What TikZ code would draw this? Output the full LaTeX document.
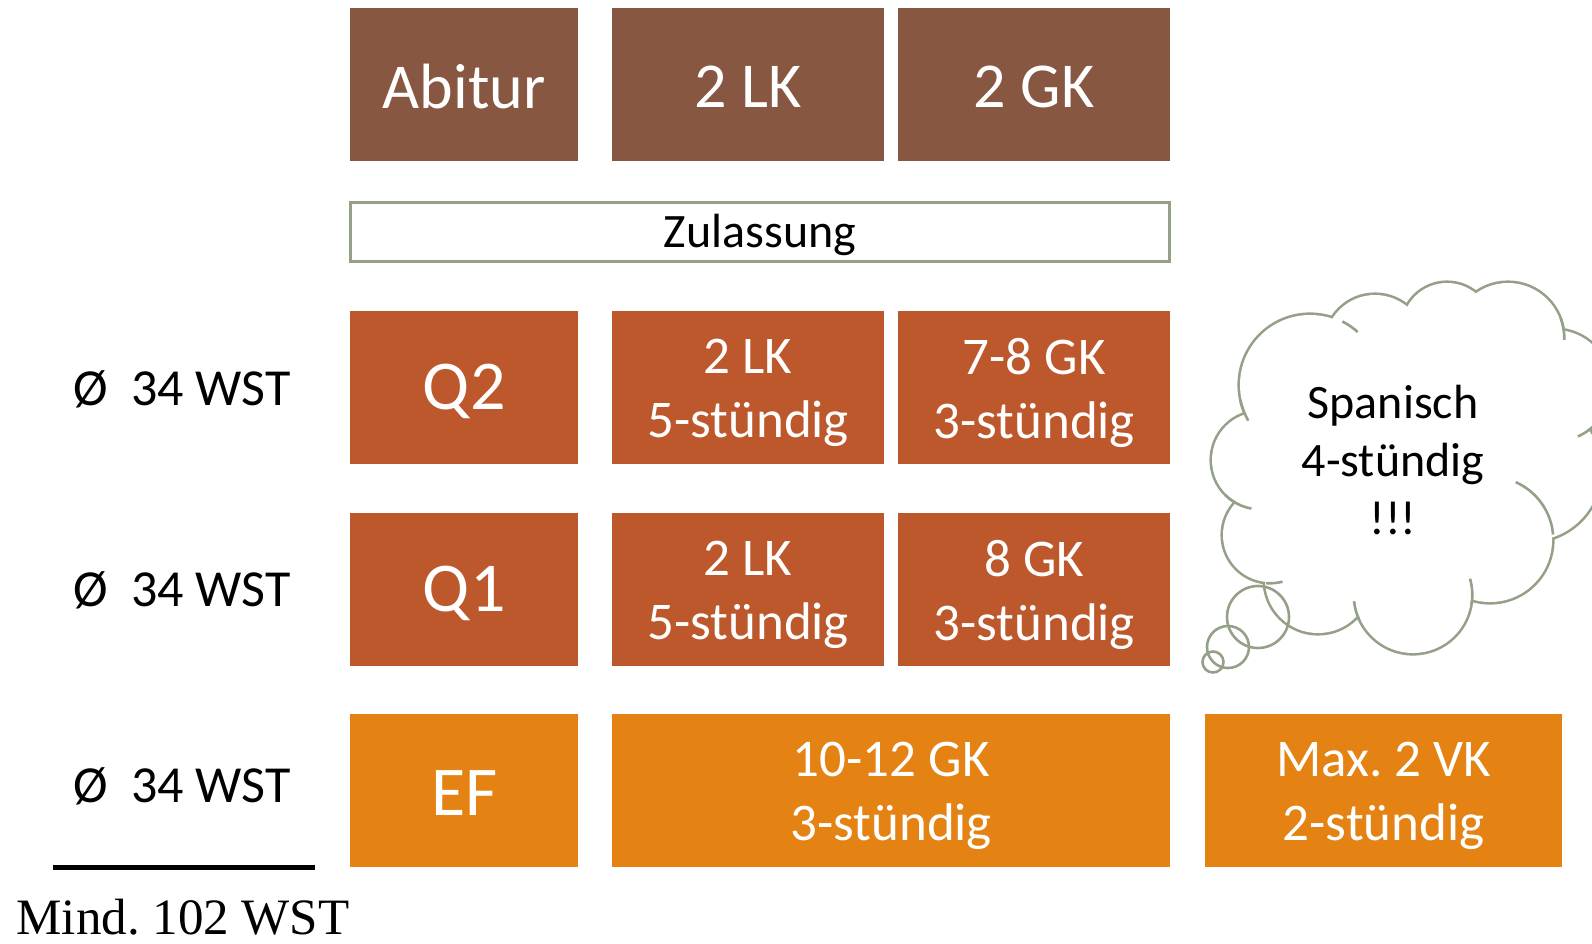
\documentclass[tikz,border=0pt]{standalone}
\usepackage{fontspec}
\setmainfont{Carlito}
\newfontfamily\mindfont{Liberation Serif}
\frenchspacing
\definecolor{topbrown}{RGB}{135,87,65}
\definecolor{qorange}{RGB}{189,88,44}
\definecolor{eforange}{RGB}{228,131,20}
\definecolor{cloudgreen}{RGB}{148,160,136}
\begin{document}
\begin{tikzpicture}[x=1pt,y=-1pt,
  box/.style={fill=#1, draw=none, inner sep=0pt, anchor=north west, minimum height=153pt},
  toptxt/.style={text=white, inner sep=0pt, font=\fontsize{64}{77}\selectfont},
  bigtxt/.style={text=white, inner sep=0pt, font=\fontsize{70}{84}\selectfont},
  twotxt/.style={text=white, inner sep=0pt, align=center, font=\fontsize{53}{64}\selectfont},
  wst/.style={font=\fontsize{52}{60}\selectfont, anchor=base, inner sep=0pt},
  cloudline/.style={draw=cloudgreen, line width=2.6pt}
]
\useasboundingbox (0,0) rectangle (1592,943);
\fill[white] (0,0) rectangle (1592,943);

% top row
\node[box=topbrown, minimum width=228pt] (abitur) at (350,8) {};
\node[box=topbrown, minimum width=272pt] (lktop) at (612,8) {};
\node[box=topbrown, minimum width=272pt] (gktop) at (898,8) {};
\node[toptxt] (tabitur) at ([yshift=-2pt]abitur.center) {Abitur};
\node[toptxt] (tlktop) at ([yshift=-2pt]lktop.center) {2 LK};
\node[toptxt] (tgktop) at ([yshift=-2pt]gktop.center) {2 GK};

% Zulassung
\node[draw=cloudgreen, line width=3pt, fill=white, minimum width=819pt, minimum height=59pt, inner sep=0pt] (zul) at (760,232) {};
\node[inner sep=0pt, font=\fontsize{48}{56}\selectfont] (tzul) at ([yshift=-3pt]zul.center) {Zulassung};

% Q2
\node[box=qorange, minimum width=228pt] (q2) at (350,311) {};
\node[box=qorange, minimum width=272pt] (q2lk) at (612,311) {};
\node[box=qorange, minimum width=272pt] (q2gk) at (898,311) {};
\node[bigtxt] (tq2) at ([yshift=-4pt]q2.center) {Q2};
\node[twotxt] (tq2lk) at ([yshift=-5pt]q2lk.center) {2 LK\\5-stündig};
\node[twotxt] (tq2gk) at ([yshift=-5pt]q2gk.center) {7-8 GK\\3-stündig};

% Q1
\node[box=qorange, minimum width=228pt] (q1) at (350,513) {};
\node[box=qorange, minimum width=272pt] (q1lk) at (612,513) {};
\node[box=qorange, minimum width=272pt] (q1gk) at (898,513) {};
\node[bigtxt] (tq1) at ([yshift=-4pt]q1.center) {Q1};
\node[twotxt] (tq1lk) at ([yshift=-5pt]q1lk.center) {2 LK\\5-stündig};
\node[twotxt] (tq1gk) at ([yshift=-5pt]q1gk.center) {8 GK\\3-stündig};

% EF
\node[box=eforange, minimum width=228pt] (ef) at (350,714) {};
\node[box=eforange, minimum width=558pt] (efgk) at (612,714) {};
\node[box=eforange, minimum width=357pt] (efvk) at (1205,714) {};
\node[bigtxt] (tef) at ([yshift=-2pt]ef.center) {EF};
\node[twotxt] (tefgk) at ([yshift=-5pt]efgk.center) {10-12 GK\\3-stündig};
\node[twotxt] (tefvk) at ([yshift=-5pt]efvk.center) {Max. 2 VK\\2-stündig};

% left labels
\node[wst] (wq2) at (182,405) {Ø\ \ 34 WST};
\node[wst] (wq1) at (182,606) {Ø\ \ 34 WST};
\node[wst] (wef) at (182,802) {Ø\ \ 34 WST};
\coordinate (lineL) at (53,867);
\coordinate (lineR) at (315,867);
\draw[line width=5pt] (lineL) -- (lineR);
\node[anchor=base, inner sep=0pt, font=\mindfont\fontsize{51}{58}\selectfont] (mind) at (183,934) {Mind. 102 WST};

% cloud
\def\lobes{1260/460/48, 1310/385/70, 1375/345/50, 1447/328/45, 1508/338/55, 1555/385/55, 1530/470/71, 1490/540/62, 1413/595/58, 1318/580/53, 1270/535/47}
\foreach \cx/\cy/\r in \lobes { \draw[cloudgreen, line width=5.2pt] (\cx,\cy) circle[radius=\r]; }
\foreach \cx/\cy/\r in \lobes { \fill[white] (\cx,\cy) circle[radius=\r]; }
\fill[white] (1260,460) -- (1310,385) -- (1375,345) -- (1447,328) -- (1508,338) -- (1555,385) -- (1530,470) -- (1490,540) -- (1413,595) -- (1318,580) -- (1270,535) -- cycle;
% inner hooks of the cloud
\foreach \cx/\cy/\r/\a/\b in {1310/385/70/-63/-48, 1310/385/70/150/168, 1260/460/48/100/135, 1508/338/55/-20/2, 1555/385/55/40/66, 1490/540/62/-66/-5, 1413/595/58/-16/10, 1413/595/58/155/174, 1270/535/47/75/95}
  { \draw[cloudline] (\cx,\cy) ++(\a:\r+1.3) arc[start angle=\a, end angle=\b, radius=\r+1.3]; }
\draw[cloudline] (1258,617) circle[radius=31];
\draw[cloudline] (1228,647) circle[radius=21];
\draw[cloudline] (1213,662) circle[radius=10.5];
\node[align=center, font=\fontsize{48}{58}\selectfont, inner sep=0pt] (spanisch) at (1393,460) {Spanisch\\4-stündig\\!!!};
\end{tikzpicture}
\end{document}
